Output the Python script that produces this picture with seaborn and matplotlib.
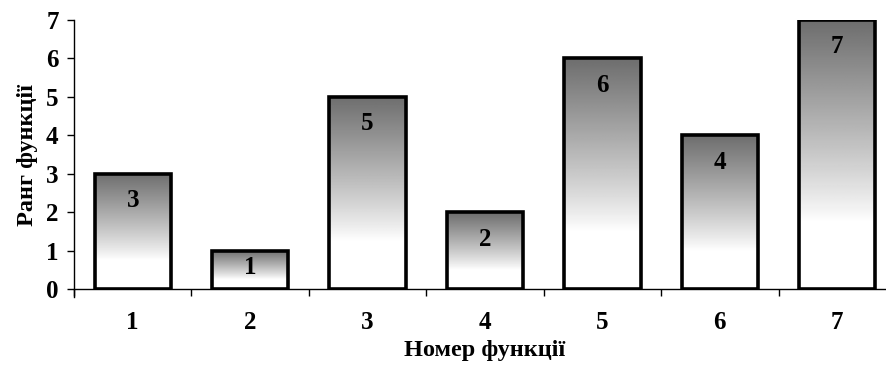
import numpy as np
import pandas as pd
import matplotlib
matplotlib.use("Agg")
import matplotlib.pyplot as plt
import seaborn as sns

# Data
functions = ["1", "2", "3", "4", "5", "6", "7"]
ranks = [3, 1, 5, 2, 6, 4, 7]

sns.set_style("white")
plt.rcParams["font.family"] = ["Liberation Serif", "DejaVu Serif"]
plt.rcParams["font.weight"] = "bold"
plt.rcParams["text.color"] = "black"
plt.rcParams["xtick.color"] = "black"
plt.rcParams["ytick.color"] = "black"
plt.rcParams["axes.labelcolor"] = "black"
plt.rcParams["axes.edgecolor"] = "black"

df = pd.DataFrame({"func": functions, "rank": ranks})

fig = plt.figure(figsize=(8.86, 3.68), dpi=100)
ax = fig.add_axes([74 / 886, 79 / 368, 822 / 886, 269 / 368])

sns.barplot(data=df, x="func", y="rank", order=functions, width=0.65,
            color="white", edgecolor="black", linewidth=2.6, ax=ax)

# vertical gradient fill: dark grey on top, white at the bottom
n = 256
t = np.linspace(0, 1, n)
s = np.clip((t - 0.25) / 0.75, 0, 1)
vals = 1.0 - 0.57 * s ** 0.9
grad = vals.reshape(-1, 1)

for p in ax.patches:
    x0, y0, w, h = p.get_x(), p.get_y(), p.get_width(), p.get_height()
    p.set_facecolor("none")
    p.set_zorder(3)
    im = ax.imshow(grad, extent=[x0, x0 + w, y0, y0 + h], origin="lower",
                   aspect="auto", cmap="gray", vmin=0, vmax=1, zorder=2)
    im.set_clip_path(p)
    # label just inside the top of the bar (centred for short bars)
    ax.text(x0 + w / 2, h - min(0.7, h * 0.45), f"{int(h)}",
            ha="center", va="center", fontsize=18, fontweight="bold",
            zorder=4)

ax.set_xlim(-0.5, len(functions) - 0.5)
ax.set_ylim(0, 7)
ax.set_yticks(range(0, 8))

sns.despine(ax=ax, top=True, right=True)
ax.spines["left"].set_linewidth(1.0)
ax.spines["bottom"].set_linewidth(1.0)
ax.spines["left"].set_bounds(-0.2, 7)

ax.set_xticks(np.arange(-0.5, len(functions), 1.0), minor=True)
ax.tick_params(axis="x", which="major", length=0, pad=16, labelsize=18)
ax.tick_params(axis="x", which="minor", direction="out", length=5, width=1,
               bottom=True)
ax.tick_params(axis="y", direction="out", length=5, width=1, pad=6,
               labelsize=18, left=True)
for lbl in ax.get_xticklabels() + ax.get_yticklabels():
    lbl.set_fontweight("bold")

ax.set_xlabel("Номер функції", fontsize=17.5, fontweight="bold", labelpad=4)
ax.set_ylabel("Ранг функції", fontsize=17.5, fontweight="bold", labelpad=6)

fig.savefig("out.png", dpi=100)
